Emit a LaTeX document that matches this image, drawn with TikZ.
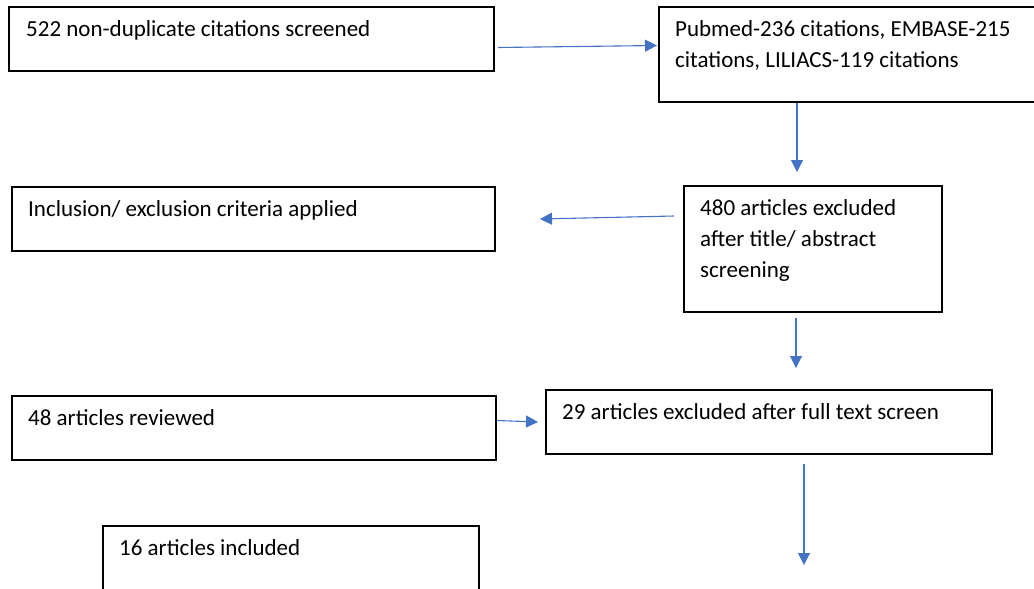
\documentclass[tikz,border=0pt]{standalone}
\usepackage{fontspec}
\setmainfont{Carlito}
\usetikzlibrary{arrows.meta}
\definecolor{arrblue}{RGB}{68,114,196}
\tikzset{
  box/.style={draw=black, line width=1.6pt, inner sep=0pt, anchor=north west},
  txt/.style={anchor=base west, inner sep=0pt, align=left, font=\fontsize{23}{31}\selectfont},
  arr/.style={draw=arrblue, line width=1.1pt, -{Triangle[length=12pt,width=12pt]}}
}
\begin{document}
\begin{tikzpicture}[x=1pt,y=1pt]
\clip (0,0) rectangle (1034,-589);
\useasboundingbox (0,0) rectangle (1034,-589);
% boxes
\node[box, minimum width=485, minimum height=64] (b1) at (8,-6) {};
\node[box, minimum width=400, minimum height=95] (b2) at (658,-6) {};
\node[box, minimum width=483, minimum height=64] (b3) at (11,-186) {};
\node[box, minimum width=258, minimum height=126] (b4) at (683,-185) {};
\node[box, minimum width=484, minimum height=64] (b5) at (11,-395) {};
\node[box, minimum width=446, minimum height=64] (b6) at (545,-389) {};
\node[box, minimum width=376, minimum height=90] (b7) at (102,-525) {};
% texts (base anchor = baseline of last line)
\node[txt] (t1) at (26,-36) {522 non-duplicate citations screened};
\node[txt] (t2) at (675,-67) {Pubmed-236 citations, EMBASE-215\\citations, LILIACS-119 citations};
\node[txt] (t3) at (28,-216) {Inclusion/ exclusion criteria applied};
\node[txt] (t4) at (700,-277) {480 articles excluded\\after title/ abstract\\screening};
\node[txt] (t5) at (28,-425) {48 articles reviewed};
\node[txt] (t6) at (562,-419) {29 articles excluded after full text screen};
\node[txt] (t7) at (119,-555) {16 articles included};
% arrow end points
\coordinate (a1s) at (498,-47.5);
\coordinate (a1e) at (657,-45.5);
\coordinate (a2s) at (797,-103);
\coordinate (a2e) at (797,-172);
\coordinate (a3s) at (674,-216);
\coordinate (a3e) at (540,-219);
\coordinate (a4s) at (796,-318);
\coordinate (a4e) at (796,-368);
\coordinate (a5s) at (497,-420.5);
\coordinate (a5e) at (538,-422);
\coordinate (a6s) at (804,-464);
\coordinate (a6e) at (804,-565);
\draw[arr] (a1s) -- (a1e);
\draw[arr] (a2s) -- (a2e);
\draw[arr] (a3s) -- (a3e);
\draw[arr] (a4s) -- (a4e);
\draw[arr] (a5s) -- (a5e);
\draw[arr] (a6s) -- (a6e);
\end{tikzpicture}
\end{document}
